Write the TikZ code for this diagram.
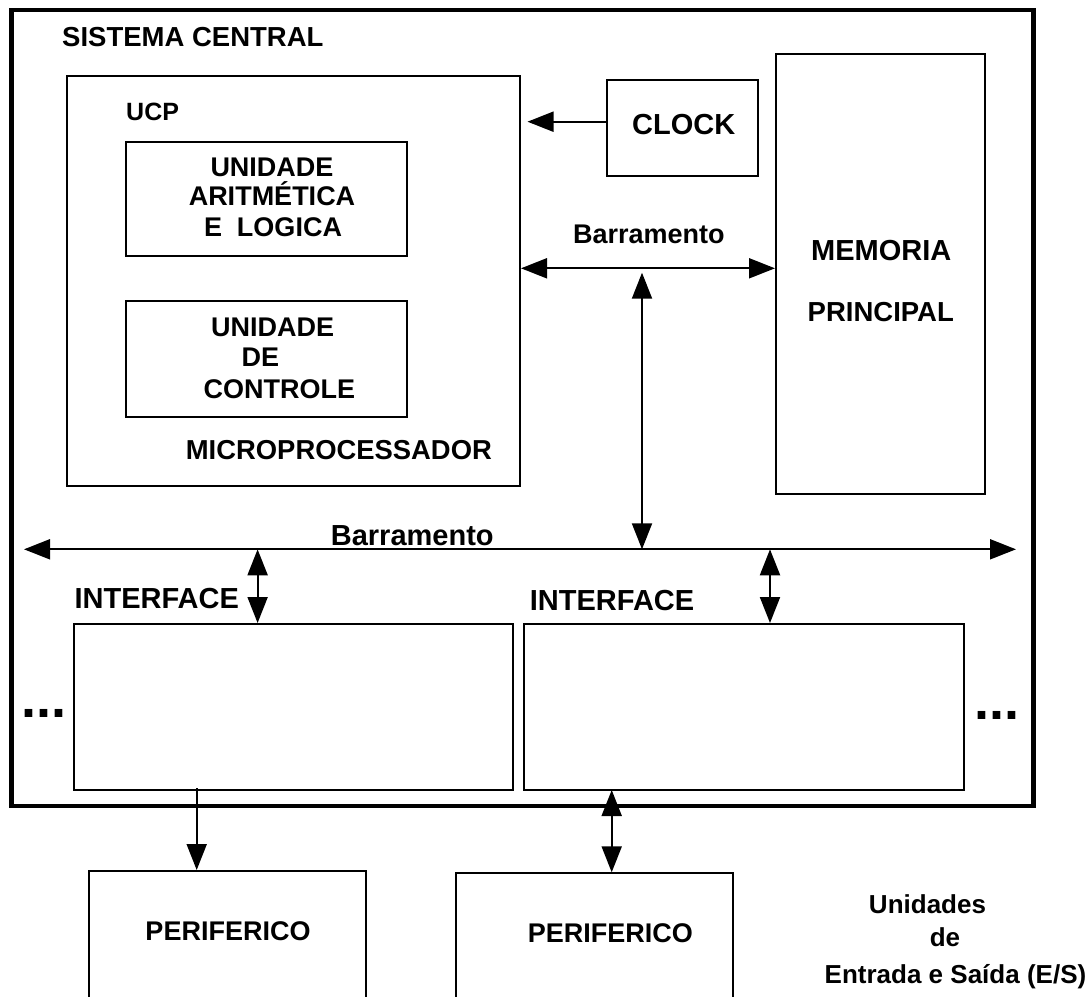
\documentclass[tikz,border=0pt]{standalone}
\usepackage{fontspec}
\setmainfont{Liberation Sans}
\usetikzlibrary{arrows.meta,fit}
\begin{document}
\begin{tikzpicture}[x=1pt,y=-1pt,
  box/.style={draw, line width=2pt, inner sep=0pt, fit={#1}},
  outerbox/.style={draw, line width=4.5pt, inner sep=0pt, fit={#1}},
  lbl/.style={anchor=base west, inner sep=0pt, font=\fontsize{#1}{#1}\selectfont\bfseries},
  ctr/.style={anchor=base, inner sep=0pt, font=\fontsize{#1}{#1}\selectfont\bfseries},
  wire/.style={line width=2pt},
  >={Triangle[length=26pt,width=20pt]},
  one/.style={wire,->},
  two/.style={wire,<->},
]
\useasboundingbox (0,0) rectangle (1092,996);

% central system frame
\node[outerbox={(11.7,10) (1033.3,806)}] (sys) {};
\node[lbl=27.5] (tsys) at (62,46.7) {SISTEMA CENTRAL};

% processor
\node[box={(67,76) (520,486)}] (ucp) {};
\node[lbl=25] (tucp) at (126,120) {UCP};
\node[box={(126,142) (406.5,256)}] (alu) {};
\node[ctr=27] (alu1) at (272,176.7) {UNIDADE};
\node[ctr=27] (alu2) at (272,205) {ARITMÉTICA};
\node[ctr=27] (alu3) at (273,236) {E~~LOGICA};
\node[box={(126,301) (406.5,417)}] (uc) {};
\node[lbl=27] (uc1) at (211,336) {UNIDADE};
\node[lbl=27] (uc2) at (241.5,366) {DE};
\node[lbl=27] (uc3) at (203.5,398) {CONTROLE};
\node[lbl=27.4] (tmicro) at (185.7,459) {MICROPROCESSADOR};

% clock and memory
\node[box={(607,80) (757.5,176)}] (clock) {};
\node[lbl=29] (tclock) at (632,134) {CLOCK};
\node[box={(776,54) (985,494)}] (mem) {};
\node[lbl=29] (tmem1) at (811,260) {MEMORIA};
\node[lbl=27.5] (tmem2) at (807.5,321) {PRINCIPAL};

% interfaces
\node[box={(74,624) (512.7,790)}] (if1) {};
\node[box={(524,624) (963.5,790)}] (if2) {};
\node[lbl=29] (tif1) at (74.4,608) {INTERFACE};
\node[lbl=29] (tif2) at (529.7,610.7) {INTERFACE};
\node[lbl=54] (dots1) at (21,717.3) {...};
\node[lbl=54] (dots2) at (974.5,719.3) {...};

% peripherals (open towards the bottom edge)
\node[box={(88.5,871) (365.7,1012)}] (p1) {};
\node[box={(455.7,873.3) (733.3,1012)}] (p2) {};
\node[ctr=27] (tp1) at (228,940.7) {PERIFERICO};
\node[ctr=27] (tp2) at (610.4,942.7) {PERIFERICO};
\node[ctr=26] (es1) at (927.5,913) {Unidades};
\node[ctr=26] (es2) at (945,946.7) {de};
\node[ctr=26] (es3) at (955.5,983) {Entrada e Saída (E/S)};

% buses
\coordinate (tb) at (642,268.3);
\coordinate (bb) at (642,549.3);
\coordinate (busL) at (24,549.3);
\coordinate (busR) at (1016,549.3);
\node[lbl=27] (tbus1) at (573,243.3) {Barramento};
\node[lbl=29] (tbus2) at (330.7,545) {Barramento};

\draw[two] (ucp.east |- tb) -- (mem.west |- tb);
\draw[two, shorten <=4.4pt] (tb) -- (bb);
\draw[two] (busL) -- (busR);

% clock line
\coordinate (ck) at (607,121.7);
\draw[one, shorten >=6.5pt] (ck) -- (ck -| ucp.east);

% bus to interfaces
\coordinate (a1) at (257.6,549.3);
\coordinate (a2) at (770,549.3);
\draw[two] (a1) -- (a1 |- if1.north);
\draw[two] (a2) -- (a2 |- if2.north);

% interfaces to peripherals
\coordinate (d1) at (196.7,788.3);
\coordinate (d2) at (611.7,790);
\draw[one] (d1) -- (d1 |- p1.north);
\draw[two] (d2) -- (d2 |- p2.north);
\end{tikzpicture}
\end{document}
